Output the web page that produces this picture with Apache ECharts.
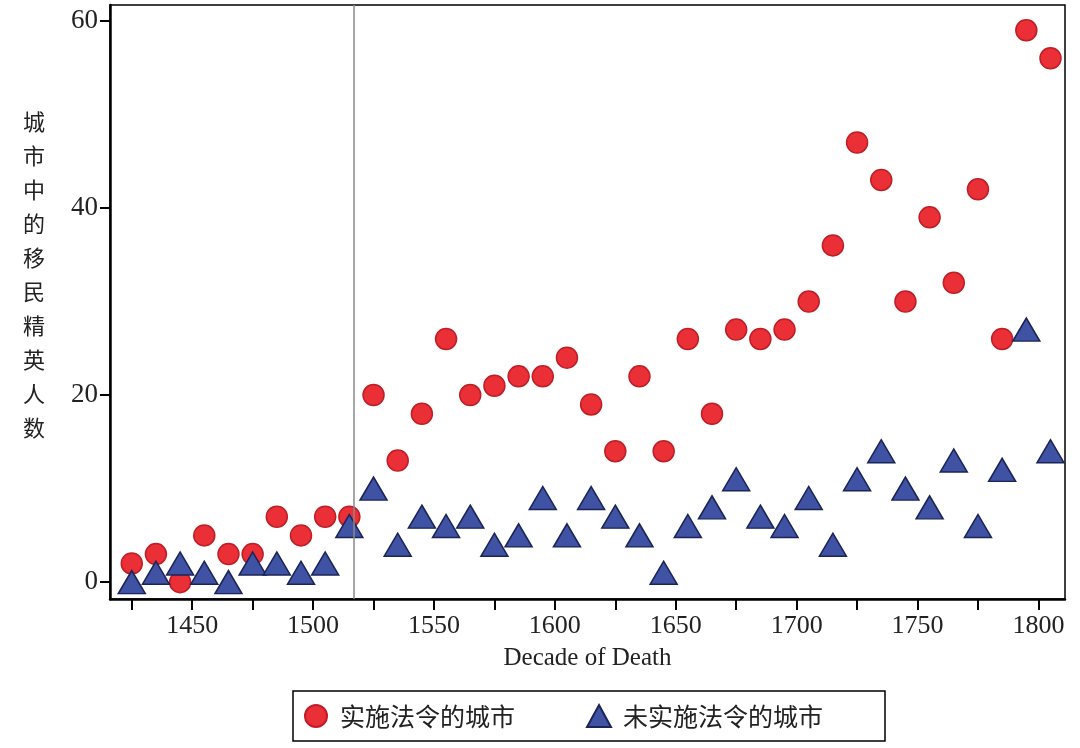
<!DOCTYPE html>
<html>
<head>
<meta charset="utf-8">
<script src="https://cdn.jsdelivr.net/npm/echarts@6/dist/echarts.min.js"></script>
<style>html,body{margin:0;padding:0;background:#fff;}#c{width:1080px;height:748px;}</style>
</head>
<body>
<div id="c"></div>
<script>
const decades = [1425,1435,1445,1455,1465,1475,1485,1495,1505,1515,1525,1535,1545,1555,1565,1575,1585,1595,1605,1615,1625,1635,1645,1655,1665,1675,1685,1695,1705,1715,1725,1735,1745,1755,1765,1775,1785,1795,1805];
const enacted = [2,3,0,5,3,3,7,5,7,7,20,13,18,26,20,21,22,22,24,19,14,22,14,26,18,27,26,27,30,36,47,43,30,39,32,42,26,59,56];
const notEnacted = [0,1,2,1,0,2,2,1,2,6,10,4,7,6,7,4,5,9,5,9,7,5,1,6,8,11,7,6,9,4,11,14,10,8,13,6,12,27,14];
const xTickValues = [1425,1450,1475,1500,1525,1550,1575,1600,1625,1650,1675,1700,1725,1750,1775,1800];
const xLabelValues = [1450,1500,1550,1600,1650,1700,1750,1800];
const yLabelValues = [0,20,40,60];
const seriesNames = ['实施法令的城市','未实施法令的城市'];
const yTitle = '城市中的移民精英人数';
const xTitle = 'Decade of Death';
const cutoffYear = 1517;

const chart = echarts.init(document.getElementById('c'));
const serif = 'Liberation Serif, Times New Roman, serif';
const cjk = 'Noto Sans CJK SC, sans-serif';
chart.setOption({
  animation: false,
  backgroundColor: '#fff',
  grid: {left: 110, right: 15, top: 5, bottom: 149, show: true, borderColor: '#000', borderWidth: 1.5, backgroundColor: 'transparent'},
  xAxis: {
    type: 'value', min: 1416, max: 1811,
    name: xTitle, nameLocation: 'middle', nameGap: 47,
    nameTextStyle: {fontFamily: serif, fontSize: 25, color: '#222'},
    axisLine: {show: true, onZero: false, lineStyle: {color: '#000', width: 2.5}},
    axisTick: {show: true, length: 11, customValues: xTickValues, lineStyle: {color: '#000', width: 2}},
    axisLabel: {customValues: xLabelValues, formatter: v => String(v), fontFamily: serif, fontSize: 26, color: '#222', margin: 14},
    splitLine: {show: false}
  },
  yAxis: {
    type: 'value', min: -1.8, max: 61.7,
    axisLine: {show: true, onZero: false, lineStyle: {color: '#000', width: 2.5}},
    axisTick: {show: true, length: 10, customValues: yLabelValues, lineStyle: {color: '#000', width: 2}},
    axisLabel: {customValues: yLabelValues, formatter: v => String(v), fontFamily: serif, fontSize: 27, color: '#222', margin: 12},
    splitLine: {show: false}
  },
  legend: {
    left: 293, top: 691, orient: 'horizontal',
    borderColor: '#000', borderWidth: 1.5, borderRadius: 0,
    padding: [12, 62, 12, 11], itemGap: 71, itemWidth: 24, itemHeight: 22,
    textStyle: {fontFamily: cjk, fontSize: 25, color: '#222', padding: [0, 0, 0, 7], lineHeight: 26},
    data: [{name: seriesNames[0], icon: 'circle'}, {name: seriesNames[1], icon: 'triangle'}]
  },
  graphic: [{
    type: 'text', left: 23, top: 105,
    style: {text: yTitle.split('').join('\n'), fontFamily: cjk, fontSize: 22, lineHeight: 34, fill: '#222', align: 'center'}
  }],
  series: [
    {
      name: seriesNames[0], type: 'scatter', symbol: 'circle', symbolSize: 21,
      data: decades.map((d, i) => [d, enacted[i]]),
      itemStyle: {color: '#EA2F37', borderColor: '#BE1E26', borderWidth: 1.5, opacity: 1},
      markLine: {
        silent: true, symbol: 'none', label: {show: false},
        lineStyle: {color: '#8a8a8a', width: 1.5, type: 'solid'},
        data: [{xAxis: cutoffYear}]
      },
      z: 2
    },
    {
      name: seriesNames[1], type: 'scatter', symbol: 'triangle', symbolSize: [27, 23],
      data: decades.map((d, i) => [d, notEnacted[i]]),
      itemStyle: {color: '#3F52A3', borderColor: '#1B2456', borderWidth: 1.5, opacity: 1},
      z: 3
    }
  ]
});
</script>
</body>
</html>
